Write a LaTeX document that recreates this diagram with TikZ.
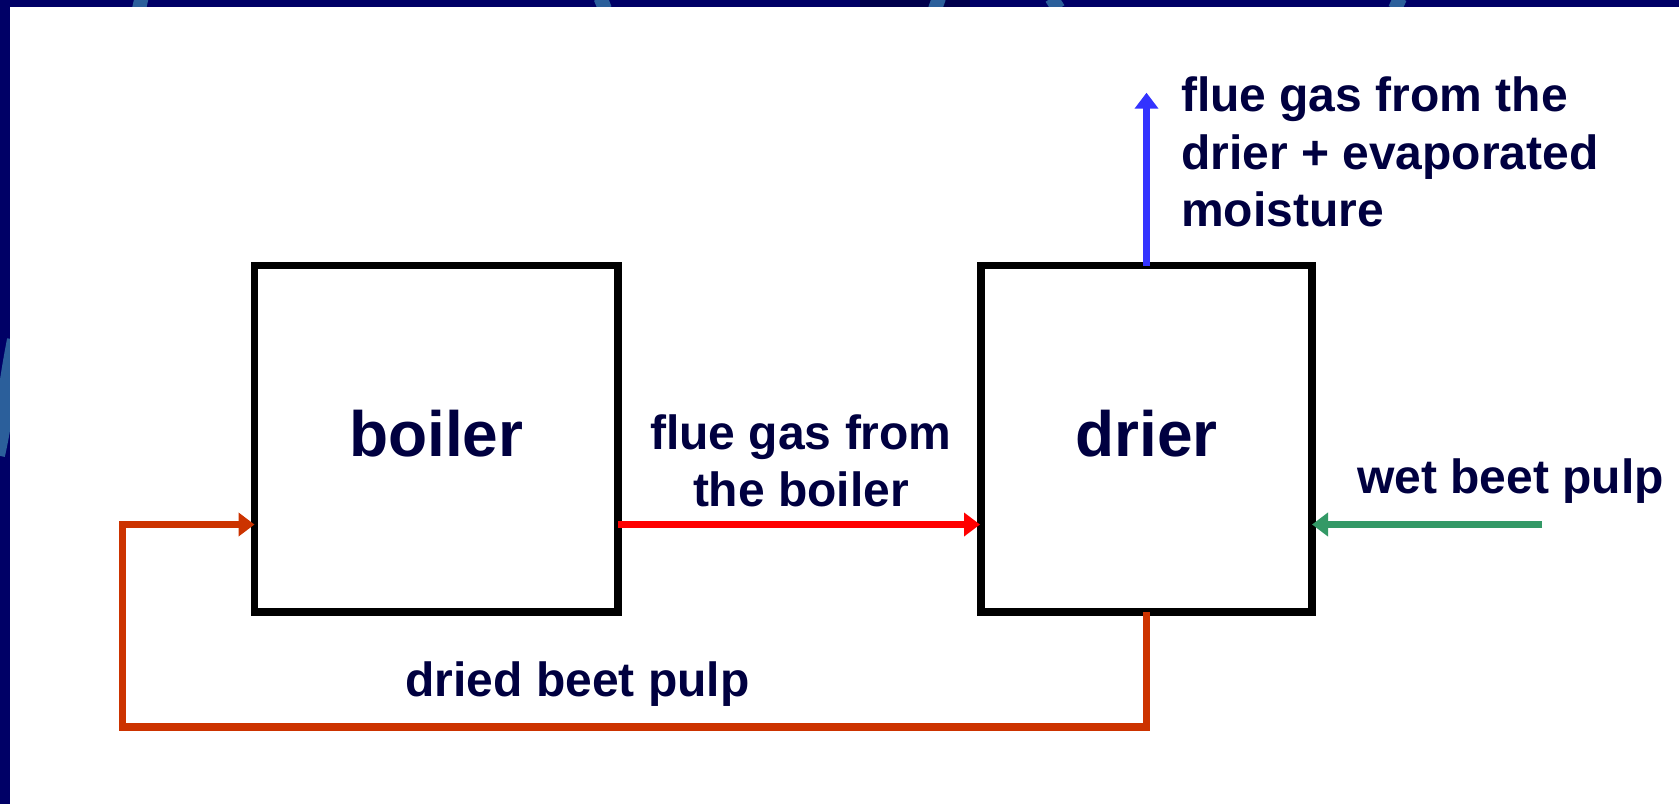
\documentclass[tikz,border=0pt]{standalone}
\usepackage{fontspec}
\setmainfont{Liberation Sans}
\usetikzlibrary{arrows.meta}
\definecolor{navybg}{HTML}{000066}
\definecolor{navydark}{HTML}{00004C}
\definecolor{arcblue}{HTML}{2B5F9B}
\definecolor{txtnavy}{HTML}{000040}
\definecolor{flowred}{HTML}{FF0000}
\definecolor{floworange}{HTML}{CC3300}
\definecolor{flowgreen}{HTML}{339966}
\definecolor{flowblue}{HTML}{3333FF}
\begin{document}
\begin{tikzpicture}[x=0.5pt,y=-0.5pt,
  unitbox/.style={draw=black, line width=3.75pt, fill=white, inner sep=0pt, outer sep=0pt,
    minimum height=173.25pt, text height=20pt, text depth=2.05pt,
    font=\fontsize{32}{38}\selectfont\bfseries, text=txtnavy},
  lbl/.style={inner sep=0pt, outer sep=0pt, font=\fontsize{24}{28.75}\selectfont\bfseries, text=txtnavy},
  flow/.style={line width=3.75pt, line join=miter, -{Triangle[length=8pt,width=11.5pt]}},
  arcstroke/.style={arcblue, line width=7pt}
]
\useasboundingbox (0,0) rectangle (1679,804);
% background frame
\fill[navybg] (0,0) rectangle (1679,804);
\fill[navydark] (860,0) rectangle (970,7);
\begin{scope}
  \clip (0,0) rectangle (1679,7);
  \draw[arcstroke] (141.5,-2) -- (139,9);
  \draw[arcstroke] (600.5,-2) -- (605,9);
  \draw[arcstroke] (939,-2) -- (935,9);
  \draw[arcstroke] (1051.5,-2) -- (1058.5,9);
  \draw[arcstroke] (1400,-2) -- (1395,9);
\end{scope}
\begin{scope}
  \clip (0,0) rectangle (10,804);
  \draw[arcblue, line width=9pt] (16,340) .. controls (8,380) and (4,420) .. (-4,455);
\end{scope}
\fill[white] (10,7) rectangle (1679,804);

% units
\node[unitbox, minimum width=181.75pt] (boiler) at (436.25,438.75) {boiler};
\node[unitbox, minimum width=165.5pt] (drier) at (1146.5,438.75) {drier};

% reference coordinates
\coordinate (lvl) at (0,524.5);
\coordinate (stacktop) at (1146.5,92.7);
\coordinate (wetsrc) at (1542,524.5);
\coordinate (loopBL) at (122.5,727);

% flows
\draw[flow, flowred] (boiler.east |- lvl) -- ([xshift=-0.5pt]drier.west |- lvl);
\draw[flow, flowblue] (drier.north) -- (stacktop);
\draw[flow, flowgreen] (wetsrc) -- (drier.east |- lvl);
\draw[flow, floworange] (drier.south) |- (loopBL) |- (boiler.west |- lvl);

% labels
\node[lbl, anchor=base] (lblflue) at (801,449.3)
  {\begin{tabular}[t]{@{}c@{}}flue gas from\\the boiler\end{tabular}};
\node[lbl, anchor=base west] (lblstack) at (1181,111.7)
  {\begin{tabular}[t]{@{}l@{}}flue gas from the\\drier + evaporated\\moisture\end{tabular}};
\node[lbl, anchor=base] (lblwet) at (1510.5,493.3) {wet beet pulp};
\node[lbl, anchor=base] (lbldried) at (577.5,696.7) {dried beet pulp};
\end{tikzpicture}
\end{document}
